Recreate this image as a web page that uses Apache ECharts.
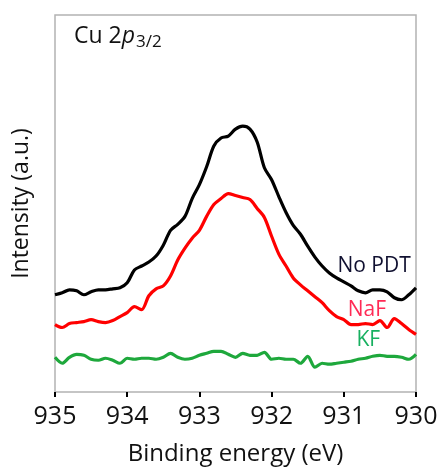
<!DOCTYPE html>
<html>
<head>
<meta charset="utf-8">
<script src="https://cdn.jsdelivr.net/npm/echarts@6/dist/echarts.min.js"></script>
<style>
  html, body { margin: 0; padding: 0; background: #fff; }
</style>
</head>
<body>
<div id="chart" style="width:443px;height:471px"></div>
<script>
// binding energy (eV), 935 -> 930
var energy = [935.0, 934.9, 934.8, 934.7, 934.6, 934.5, 934.4, 934.3, 934.2, 934.1,
    934.0, 933.9, 933.8, 933.7, 933.6, 933.5, 933.4, 933.3, 933.2, 933.1,
    933.0, 932.9, 932.8, 932.7, 932.6, 932.5, 932.4, 932.3, 932.2, 932.1,
    932.0, 931.9, 931.8, 931.7, 931.6, 931.5, 931.4, 931.3, 931.2, 931.1,
    931.0, 930.9, 930.8, 930.7, 930.6, 930.5, 930.4, 930.3, 930.2, 930.1, 930.0]
// intensity (a.u.), offset curves
var noPdt = [98, 100, 103, 102, 98, 101, 103, 103, 104, 105,
    110, 123, 127, 131, 137, 148, 163, 169, 177, 195,
    209, 227, 248, 256, 258, 265, 268, 265, 252, 226,
    214, 197, 181, 168, 159, 147, 136, 127, 120, 115,
    111, 107, 102, 100, 103, 103, 101, 95, 93, 98, 105]
var naf = [68, 65, 69, 70, 71, 73, 71, 70, 72, 76,
    80, 86, 83, 97, 104, 107, 117, 133, 145, 155,
    163, 177, 189, 195, 200, 198, 196, 194, 185, 176,
    157, 139, 127, 115, 108, 102, 96, 90, 82, 76,
    73, 68, 68, 69, 68, 72, 65, 74, 69, 63, 58]
var kf = [35, 29, 35, 38, 37, 33, 32, 34, 32, 29,
    34, 33, 34, 34, 33, 35, 39, 35, 33, 34,
    37, 39, 41, 41, 38, 35, 39, 37, 37, 40,
    33, 34, 33, 33, 29, 36, 25, 29, 28, 29,
    30, 31, 33, 34, 36, 37, 36, 36, 35, 33, 38]
var xTicks = [935, 934, 933, 932, 931, 930]

var seriesNames = ['No PDT', 'NaF', 'KF']
var seriesColors = ['#000000', '#ff0000', '#1ea83c']
var labelColors = ['#101030', '#ff2a55', '#18b060']
// label anchor [energy, intensity]
var labelPos = [[930.58, 127], [930.68, 83], [930.66, 52]]

function pairs (ys) {
    return energy.map(function (e, i) { return [e, ys[i]] })
}

var chart = echarts.init(document.getElementById('chart'))
var FONT = 'Open Sans'

var option = {
    animation: false,
    graphic: [{
        type: 'text',
        left: 74,
        top: 25,
        style: {
            text: '{a|Cu 2}{b|p}{c|3/2}',
            rich: {
                a: { fontFamily: FONT, fontSize: 23, fill: '#111' },
                b: { fontFamily: FONT, fontSize: 23, fill: '#111', fontStyle: 'italic' },
                c: { fontFamily: FONT, fontSize: 17, fill: '#111', padding: [12, 0, 0, 1] }
            }
        }
    }],
    grid: {
        left: 55,
        right: 27,
        top: 15,
        bottom: 76,
        show: true,
        borderColor: '#b3b3b3',
        borderWidth: 1.5
    },
    xAxis: {
        type: 'value',
        min: 930,
        max: 935,
        interval: 1,
        inverse: true,
        name: 'Binding energy (eV)',
        nameLocation: 'middle',
        nameGap: 50,
        nameTextStyle: { fontFamily: FONT, fontSize: 24, color: '#111' },
        axisLine: { show: false },
        axisTick: { show: true, length: 5, lineStyle: { color: '#000', width: 2 } },
        splitLine: { show: false },
        axisLabel: {
            margin: 12,
            fontFamily: FONT,
            fontSize: 25,
            color: '#111',
            formatter: function (v) { return xTicks.indexOf(v) >= 0 ? String(v) : '' }
        }
    },
    yAxis: {
        type: 'value',
        min: 0,
        max: 380,
        name: 'Intensity (a.u.)',
        nameLocation: 'middle',
        nameRotate: 90,
        nameGap: 22,
        nameTextStyle: { fontFamily: FONT, fontSize: 23, color: '#111' },
        axisLine: { show: false },
        axisTick: { show: false },
        axisLabel: { show: false },
        splitLine: { show: false }
    },
    series: [noPdt, naf, kf].map(function (ys, i) {
        return {
            name: seriesNames[i],
            type: 'line',
            data: pairs(ys),
            symbol: 'none',
            smooth: 0.3,
            lineStyle: { color: seriesColors[i], width: 3.2 },
            markPoint: {
                symbol: 'circle',
                symbolSize: 0,
                data: [{ coord: labelPos[i] }],
                label: {
                    show: true,
                    position: 'inside',
                    formatter: seriesNames[i],
                    fontFamily: FONT,
                    fontSize: 21,
                    color: labelColors[i]
                }
            }
        }
    })
}
chart.setOption(option)
</script>
</body>
</html>
